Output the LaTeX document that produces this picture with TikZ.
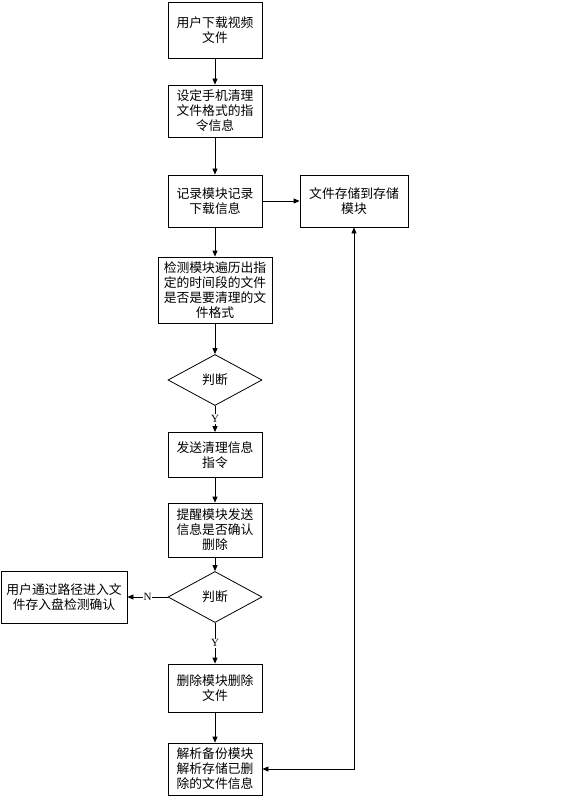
\documentclass[tikz,border=0pt]{standalone}
\usepackage{fontspec}
\usepackage{tikz}
\usetikzlibrary{shapes.geometric,arrows.meta}
\newfontfamily\cjk{Noto Sans CJK SC}
\setmainfont{Liberation Serif}

\begin{document}
\begin{tikzpicture}[
    x=1pt, y=-1pt,
    every node/.style={draw, line width=0.8pt, inner sep=0pt, align=center,
        font=\cjk\fontsize{12.8}{15}\selectfont},
    every path/.style={line width=0.8pt},
    flow/.style={-{Triangle[length=6pt,width=5pt]}},
    twoway/.style={{Triangle[length=6pt,width=5pt]}-{Triangle[length=6pt,width=5pt]}},
    box/.style={rectangle, minimum width=94pt},
    judge/.style={diamond, minimum width=94pt, minimum height=51pt},
    tag/.style={draw=none, fill=white, inner sep=1pt, font=\fontsize{11}{12}\selectfont}
]
\useasboundingbox (0,0) rectangle (576,810);

% Nodes
\node[box, minimum height=56pt] (download) at (215,30) {用户下载视频\\文件};
\node[box, minimum height=52pt] (setting) at (215,111) {设定手机清理\\文件格式的指\\令信息};
\node[box, minimum height=52pt] (record) at (215,201) {记录模块记录\\下载信息};
\node[box, minimum width=108pt, minimum height=52pt] (storage) at (354,201) {文件存储到存储\\模块};
\node[box, minimum width=114pt, minimum height=66pt] (detect) at (215,290) {检测模块遍历出指\\定的时间段的文件\\是否是要清理的文\\件格式};
\node[judge] (judgeA) at (215,380) {判断};
\node[box, minimum height=45pt] (send) at (215,455) {发送清理信息\\指令};
\node[box, minimum height=54pt] (remind) at (215,530) {提醒模块发送\\信息是否确认\\删除};
\node[judge] (judgeB) at (215,597) {判断};
\node[box, minimum width=126pt, minimum height=52pt] (manual) at (64,597) {用户通过路径进入文\\件存入盘检测确认};
\node[box, minimum height=48pt] (delete) at (215,688) {删除模块删除\\文件};
\node[box, minimum height=52pt] (backup) at (215,769) {解析备份模块\\解析存储已删\\除的文件信息};

% Edges
\draw[flow] (download) -- (setting);
\draw[flow] (setting) -- (record);
\draw[flow] (record) -- (storage);
\draw[flow] (record) -- (detect);
\draw[flow] (detect) -- (judgeA);
\draw[flow] (judgeA) -- node[tag] {Y} (send);
\draw[flow] (send) -- (remind);
\draw[flow] (remind) -- (judgeB);
\draw[flow] (judgeB) -- node[tag] {N} (manual);
\draw[flow] (judgeB) -- node[tag] {Y} (delete);
\draw[flow] (delete) -- (backup);
\draw[twoway] (backup.east) -- (storage.south |- backup.east) -- (storage.south);

\end{tikzpicture}
\end{document}
